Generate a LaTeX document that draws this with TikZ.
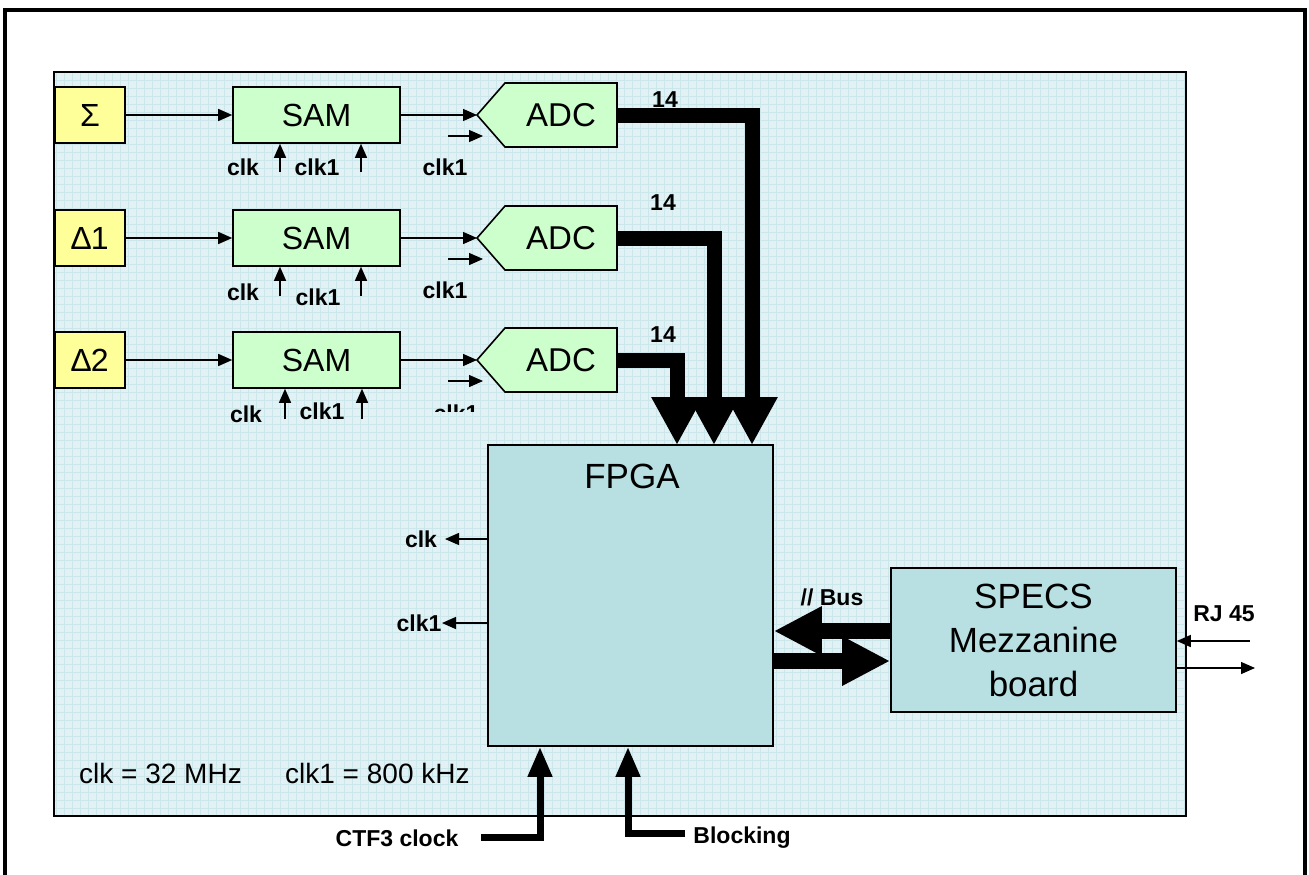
\documentclass[tikz,border=0pt]{standalone}
\usepackage{fontspec}
\setmainfont{Liberation Sans}
\usetikzlibrary{arrows.meta,calc}
\definecolor{panelbg}{RGB}{226,241,243}
\definecolor{panelgrid}{RGB}{204,231,235}
\definecolor{inyellow}{RGB}{255,255,153}
\definecolor{samgreen}{RGB}{204,255,204}
\definecolor{fpgablue}{RGB}{184,224,226}
\begin{document}
\begin{tikzpicture}[x=1pt,y=-1pt,
  box/.style={draw=black, line width=1.6pt, inner sep=0pt},
  inbox/.style={box, fill=inyellow, minimum width=70, minimum height=56, font=\fontsize{32}{34}\selectfont},
  sambox/.style={box, fill=samgreen, minimum width=167, minimum height=56, font=\fontsize{32}{34}\selectfont},
  adcshape/.style={draw=black, line width=1.6pt, fill=samgreen},
  adctext/.style={inner sep=0pt, minimum width=112, minimum height=64, font=\fontsize{33}{35}\selectfont},
  bigbox/.style={box, fill=fpgablue},
  lbl/.style={inner sep=0pt, font=\fontsize{23}{25}\selectfont\bfseries},
  arr/.style={line width=1.4pt, -{Triangle[length=14pt,width=12pt]}},
  bus/.style={line width=15pt, miter limit=10, -{Triangle[length=48pt,width=48pt]}},
  bustwo/.style={line width=16pt, -{Triangle[length=48pt,width=46pt]}},
  inarr/.style={line width=7pt, miter limit=10, -{Triangle[length=30pt,width=23pt]}}
]
\useasboundingbox (0,0) rectangle (1309,875);
\begin{scope}
  \clip (0,0) rectangle (1309,875);
  \draw[line width=4pt] (5,10) rectangle (1305,900);
\end{scope}
% panel
\fill[panelbg] (54,72) rectangle (1186,816);
\begin{scope}
  \clip (54,72) rectangle (1186,816);
  \draw[panelgrid, line width=0.6pt] (54,816) grid[step=8pt] (1186,72);
\end{scope}
\draw[line width=1.5pt] (54,72) rectangle (1186,816);

% rows
\foreach \n/\y/\lab in {1/115/Σ, 2/238/∆1, 3/360/∆2} {
  \node[inbox] (in\n) at (90,\y) {\lab};
  \node[sambox] (sam\n) at (316.5,\y) {SAM};
  \path[adcshape] (477,\y) -- (505,\y-32) -- (617,\y-32) -- (617,\y+32) -- (505,\y+32) -- cycle;
  \coordinate (tip\n) at (477,\y);
  \node[adctext] (adc\n) at (561,\y) {ADC};
  \draw[arr] (in\n) -- (sam\n);
  \draw[arr] (sam\n) -- (tip\n);
  \coordinate (cka\n) at (448,\y+21);
  \coordinate (ckb\n) at (483,\y+21);
  \draw[arr] (cka\n) -- (ckb\n);
}

% SAM clock arrows and labels
\coordinate (s1a) at (280,172); \coordinate (s1b) at (361,172);
\coordinate (s2a) at (280,296); \coordinate (s2b) at (361,296);
\coordinate (s3a) at (285,419); \coordinate (s3b) at (362,419);
\foreach \c/\s in {s1a/sam1, s1b/sam1, s2a/sam2, s2b/sam2, s3a/sam3, s3b/sam3}
  \draw[arr] (\c) -- (\c |- \s.south);
\node[lbl] (l1a) at (243,167) {clk};
\node[lbl] (l1b) at (317,167) {clk1};
\node[lbl] (l1c) at (445,167) {clk1};
\node[lbl] (l2a) at (243,292) {clk};
\node[lbl] (l2b) at (318,297) {clk1};
\node[lbl] (l2c) at (445,290) {clk1};
\node[lbl] (l3a) at (246,414) {clk};
\node[lbl] (l3b) at (322,411) {clk1};
\begin{scope}
  \clip (420,392) rectangle (495,411);
  \node[lbl] (l3c) at (456,413) {clk1};
\end{scope}

% FPGA and SPECS
\node[bigbox, minimum width=285, minimum height=301] (fpga) at (630.5,595.5) {};
\node[font=\fontsize{35}{37}\selectfont] (fpgat) at (632,476) {FPGA};
\node[bigbox, minimum width=285, minimum height=144, align=center,
      font=\fontsize{35}{44}\selectfont] (specs) at (1033.5,640) {SPECS\\Mezzanine\\board};

% buses from ADCs
\coordinate (bt1) at (752,445);
\coordinate (bt2) at (714,445);
\coordinate (bt3) at (677,445);
\draw[bus] (adc1.east) -| (bt1);
\draw[bus] (adc2.east) -| (bt2);
\draw[bus] (adc3.east) -| (bt3);
\node[lbl] (n1) at (665,100) {14};
\node[lbl] (n2) at (663,203) {14};
\node[lbl] (n3) at (663,335) {14};

% parallel bus
\coordinate (bl) at ($(specs.west)+(0,-9)$);
\coordinate (br) at ($(specs.west)+(0,21)$);
\draw[bustwo] (bl) -- (bl -| fpga.east);
\draw[bustwo] (br -| fpga.east) -- (br);
\node[lbl] (busl) at (832,597) {// Bus};

% RJ45
\coordinate (rjin) at (1250,641);
\coordinate (rjout) at (1255,668);
\draw[arr] (rjin) -- (rjin -| specs.east);
\draw[arr] (rjout -| specs.east) -- (rjout);
\node[lbl] (rj) at (1224,614) {RJ 45};

% FPGA clock outputs
\coordinate (cko) at (445,539);
\coordinate (ckp) at (442,623);
\draw[arr] (cko -| fpga.west) -- (cko);
\draw[arr] (ckp -| fpga.west) -- (ckp);
\node[lbl] (fclk) at (421,539) {clk};
\node[lbl] (fclk1) at (419,623) {clk1};

% bottom inputs
\coordinate (ctfa) at (481,837);
\coordinate (ctfb) at (540,837);
\draw[inarr] (ctfa) -- (ctfb) -- (ctfb |- fpga.south);
\node[lbl] (ctf) at (397,838) {CTF3 clock};
\coordinate (blka) at (685,833);
\coordinate (blkb) at (628,833);
\draw[inarr] (blka) -- (blkb) -- (blkb |- fpga.south);
\node[lbl] (blk) at (742,838) {Blocking};

% legend
\node[anchor=west, inner sep=0pt, font=\fontsize{28}{30}\selectfont] (leg1) at (79,773) {clk = 32 MHz};
\node[anchor=west, inner sep=0pt, font=\fontsize{28}{30}\selectfont] (leg2) at (285,773) {clk1 = 800 kHz};
\end{tikzpicture}
\end{document}
